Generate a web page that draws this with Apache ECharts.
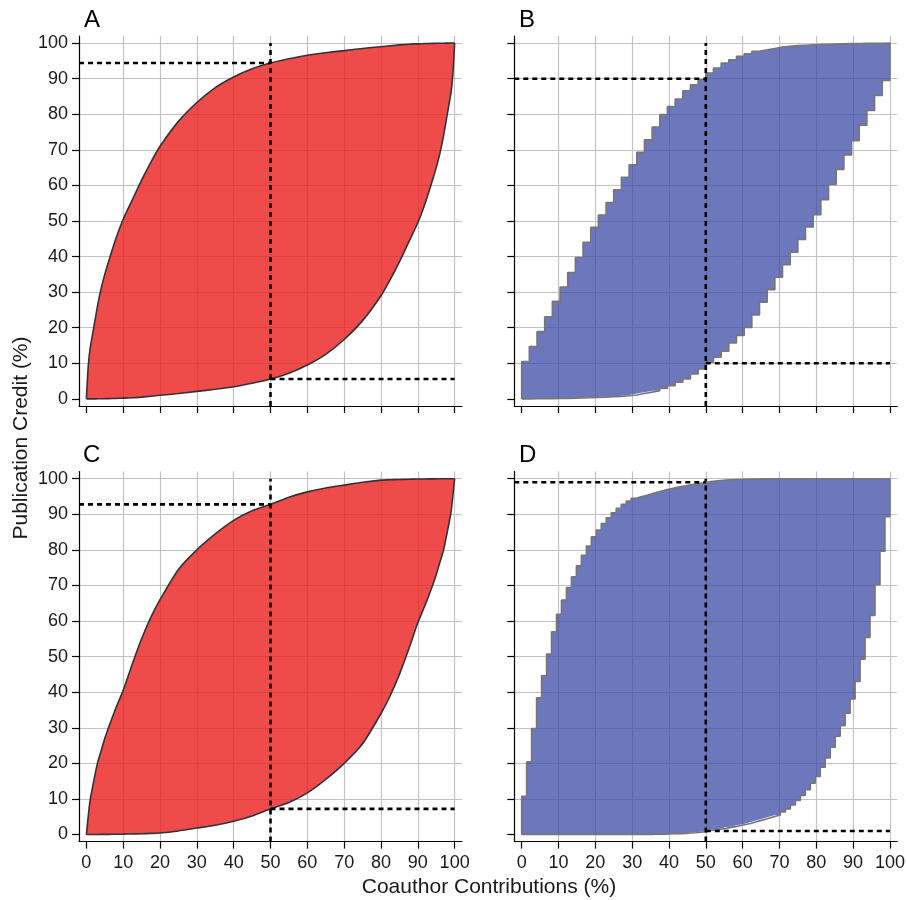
<!DOCTYPE html>
<html>
<head>
<meta charset="utf-8">
<script src="https://cdn.jsdelivr.net/npm/echarts@6/dist/echarts.min.js"></script>
<style>
  html, body { margin: 0; padding: 0; background: #fff; }
  #chart { width: 907px; height: 900px; }
</style>
</head>
<body>
<div id="chart"></div>
<script>
// tick labels
const tickVals = [0, 10, 20, 30, 40, 50, 60, 70, 80, 90, 100];
const gridVals = [10, 20, 30, 40, 50, 60, 70, 80, 90, 100];

// smooth panels (A, C): sample positions along x
const smoothX = [0, 0.5, 1, 2, 3, 4, 5, 6, 8, 10, 12.5, 15, 17.5, 20, 25, 30, 35, 40, 45, 50,
  55, 60, 65, 70, 75, 80, 82.5, 85, 87.5, 90, 92, 94, 95, 96, 97, 98, 99, 99.5, 100];

const upperA = [0, 9, 14, 20, 26, 31, 35, 38.5, 45, 50.5, 56, 61.5, 66.5, 71, 78, 83.3, 87.5, 90.5, 92.8, 94.4,
  95.6, 96.6, 97.3, 97.9, 98.5, 99, 99.25, 99.5, 99.7, 99.8, 99.88, 99.93, 99.95, 99.97, 99.98, 99.99, 100, 100, 100];
const lowerA = [0, 0, 0, 0.01, 0.02, 0.03, 0.05, 0.07, 0.12, 0.2, 0.3, 0.5, 0.75, 1, 1.5, 2.1, 2.7, 3.4, 4.4, 5.6,
  7.2, 9.5, 12.5, 16.7, 22, 29, 33.5, 38.5, 44, 49.5, 55, 61.5, 65, 69, 74, 80, 86, 91, 100];

const upperC = [0, 5, 9.5, 15, 20, 23.5, 27, 30, 35.5, 40.5, 48, 55, 61, 66, 74.5, 80, 84.5, 88.3, 91, 92.8,
  94.8, 96.3, 97.4, 98.2, 99, 99.6, 99.7, 99.8, 99.85, 99.9, 99.93, 99.96, 99.97, 99.98, 99.99, 100, 100, 100, 100];
const lowerC = [0, 0, 0, 0, 0.01, 0.02, 0.03, 0.04, 0.07, 0.1, 0.15, 0.2, 0.3, 0.4, 1, 1.8, 2.6, 3.7, 5.2, 7.2,
  9, 11.7, 15.5, 20, 25.5, 34, 39, 45, 52, 59.5, 64.5, 70, 73, 76.5, 80, 85, 90.5, 95, 100];

// step panel B: step edges and the level held over each step
const edgesB = [0, 2.08, 4.17, 6.25, 8.33, 10.42, 12.5, 14.58, 16.67, 18.75, 20.83, 22.92, 25, 27.08, 29.17,
  31.25, 33.33, 35.42, 37.5, 39.58, 41.67, 43.75, 45.83, 47.92, 50, 52.08, 54.17, 56.25, 58.33, 60.42, 62.5,
  64.58, 66.67, 68.75, 70.83, 72.92, 75, 77.08, 79.17, 81.25, 83.33, 85.42, 87.5, 89.58, 91.67, 93.75, 95.83,
  97.92, 100];
const upperB = [10.5, 14.7, 18.9, 23.1, 27.4, 31.4, 35.5, 39.7, 44.0, 48.2, 51.7, 55.2, 58.8, 62.3, 65.8, 69.3,
  72.8, 76.4, 79.9, 82.2, 84.3, 86.6, 88.3, 89.7, 91.6, 93.0, 94.4, 95.3, 96.3, 97.0, 97.7, 98.1, 98.5, 98.9,
  99.1, 99.3, 99.4, 99.5, 99.6, 99.7, 99.75, 99.8, 99.85, 99.9, 99.93, 99.96, 99.98, 100];
const lowerB = [0, 0.02, 0.04, 0.07, 0.1, 0.15, 0.2, 0.25, 0.3, 0.4, 0.5, 0.6, 0.7, 0.9, 1.1, 1.5, 1.9, 2.3,
  3.0, 3.7, 4.7, 5.6, 7.0, 8.4, 10.3, 11.7, 13.4, 15.7, 17.8, 20.1, 23.6, 27.2, 30.7, 34.2, 37.7, 41.2, 44.8,
  48.3, 51.8, 56.0, 60.3, 64.5, 68.6, 72.6, 76.9, 81.1, 85.3, 89.5];

// step panel D
const edgesD = [0, 1.35, 2.70, 4.05, 5.41, 6.76, 8.11, 9.46, 10.81, 12.16, 13.51, 14.86, 16.22, 17.57, 18.92,
  20.27, 21.62, 22.97, 24.32, 25.68, 27.03, 28.38, 29.73, 31.08, 32.43, 33.78, 35.14, 36.49, 37.84, 39.19,
  40.54, 41.89, 43.24, 44.59, 45.95, 47.30, 48.65, 50, 51.35, 52.70, 54.05, 55.41, 56.76, 58.11, 59.46, 60.81,
  62.16, 63.51, 64.86, 66.22, 67.57, 68.92, 70.27, 71.62, 72.97, 74.32, 75.68, 77.03, 78.38, 79.73, 81.08,
  82.43, 83.78, 85.14, 86.49, 87.84, 89.19, 90.54, 91.89, 93.24, 94.59, 95.95, 97.30, 98.65, 100];
const upperD = [10.7, 20.4, 29.8, 38.4, 44.6, 50.7, 57.0, 61.9, 65.9, 69.4, 72.4, 75.5, 78.5, 81.1, 83.7, 85.6,
  87.4, 89.0, 90.4, 91.7, 92.8, 93.7, 94.5, 94.9, 95.3, 95.7, 96.1, 96.5, 96.9, 97.2, 97.5, 97.8, 98.0, 98.3,
  98.5, 98.7, 98.9, 99.2, 99.35, 99.5, 99.6, 99.7, 99.75, 99.8, 99.85, 99.9, 99.92, 99.94, 99.96, 99.97, 99.98,
  99.99, 100, 100, 100, 100, 100, 100, 100, 100, 100, 100, 100, 100, 100, 100, 100, 100, 100, 100, 100, 100,
  100, 100];
const lowerD = [0, 0, 0, 0, 0, 0, 0, 0, 0, 0, 0, 0, 0, 0, 0, 0, 0, 0, 0, 0, 0, 0, 0.01, 0.02, 0.03, 0.04, 0.06,
  0.08, 0.1, 0.15, 0.2, 0.25, 0.3, 0.4, 0.5, 0.65, 0.8, 1.1, 1.3, 1.5, 1.7, 2.0, 2.2, 2.5, 2.8, 3.1, 3.5, 3.9,
  4.3, 4.7, 5.1, 5.5, 6.3, 7.2, 8.3, 9.6, 11.0, 12.6, 14.4, 16.3, 18.9, 21.5, 24.5, 27.6, 30.6, 34.1, 38.1,
  43.0, 49.3, 55.4, 61.6, 70.2, 79.6, 89.3];

// dashed reference lines: cut at x = 50, credit read where it crosses each curve
const cutX = 50;
const hiVals = [94.4, 90, 92.8, 99];
const loVals = [5.6, 10, 7.2, 1];

const axisMin = -2, axisMax = 102;
const FONT = '"Liberation Sans", Arial, Helvetica, sans-serif';
const RED_FILL = 'rgba(235, 30, 30, 0.8)';
const BLUE_FILL = 'rgba(60, 75, 165, 0.75)';

const panels = [
  { name: 'A', step: false, xs: smoothX, upper: upperA, lower: lowerA, fill: RED_FILL, edge: '#333333' },
  { name: 'B', step: true, xs: edgesB, upper: upperB, lower: lowerB, fill: BLUE_FILL, edge: '#767676' },
  { name: 'C', step: false, xs: smoothX, upper: upperC, lower: lowerC, fill: RED_FILL, edge: '#333333' },
  { name: 'D', step: true, xs: edgesD, upper: upperD, lower: lowerD, fill: BLUE_FILL, edge: '#767676' }
];

const layout = [
  { left: 79, top: 36, letterLeft: 84, letterTop: 8 },
  { left: 514.3, top: 36, letterLeft: 519, letterTop: 8 },
  { left: 79, top: 471.6, letterLeft: 83, letterTop: 443 },
  { left: 514.3, top: 471.6, letterLeft: 519, letterTop: 443 }
];
const GW = 383, GH = 370;

// rows of [x, lower, upper] for the band
function bandRows(p) {
  const rows = [];
  if (p.step) {
    const n = p.upper.length;
    rows.push([p.xs[0], p.lower[0], p.lower[0]]);
    for (let k = 0; k < n; k++) rows.push([p.xs[k], p.lower[k], p.upper[k]]);
    rows.push([p.xs[n], p.lower[n - 1], p.upper[n - 1]]);
    rows.push([p.xs[n], p.lower[n - 1], p.lower[n - 1]]);
  } else {
    for (let k = 0; k < p.xs.length; k++) rows.push([p.xs[k], p.lower[k], p.upper[k]]);
  }
  return rows;
}

const grids = [], xAxes = [], yAxes = [], series = [], titles = [];

panels.forEach(function (p, i) {
  const L = layout[i];
  const bottomRow = i >= 2;
  const leftCol = i % 2 === 0;
  grids.push({ left: L.left, top: L.top, width: GW, height: GH, outerBoundsMode: 'none' });

  const labelStyle = { fontSize: 18, color: '#1a1a1a', fontFamily: FONT };
  // visible axes (line, ticks, labels)
  xAxes.push({
    type: 'value', gridIndex: i, min: axisMin, max: axisMax,
    axisLine: { show: true, onZero: false, lineStyle: { color: '#000', width: 1.2 } },
    axisTick: { show: true, length: 7, customValues: tickVals, lineStyle: { color: '#000', width: 1.2 } },
    axisLabel: Object.assign({ show: bottomRow, customValues: tickVals, margin: 12 }, labelStyle),
    splitLine: { show: false }
  });
  // helper axes only for the grid lines
  xAxes.push({
    type: 'value', gridIndex: i, min: axisMin, max: axisMax, position: 'top',
    axisLine: { show: false },
    axisTick: { show: false, customValues: gridVals },
    axisLabel: { show: false, customValues: gridVals },
    splitLine: { show: true, lineStyle: { color: '#c2c2c2', width: 1.2 } }
  });
  yAxes.push({
    type: 'value', gridIndex: i, min: axisMin, max: axisMax,
    axisLine: { show: true, onZero: false, lineStyle: { color: '#000', width: 1.2 } },
    axisTick: { show: true, length: 7, customValues: tickVals, lineStyle: { color: '#000', width: 1.2 } },
    axisLabel: Object.assign({ show: leftCol, customValues: tickVals, margin: 11 }, labelStyle),
    splitLine: { show: false }
  });
  yAxes.push({
    type: 'value', gridIndex: i, min: axisMin, max: axisMax, position: 'right',
    axisLine: { show: false },
    axisTick: { show: false, customValues: gridVals },
    axisLabel: { show: false, customValues: gridVals },
    splitLine: { show: true, lineStyle: { color: '#c2c2c2', width: 1.2 } }
  });

  const rows = bandRows(p);
  const common = {
    type: 'line', xAxisIndex: 2 * i, yAxisIndex: 2 * i,
    stack: 'band' + p.name, symbol: 'none', silent: true,
    step: p.step ? 'end' : false,
    smooth: p.step ? false : 0.2,
    // value first so the stack runs on y
    encode: { x: 1, y: 0 },
    lineStyle: { color: p.edge, width: 1.6 },
    z: 3
  };
  series.push(Object.assign({}, common, {
    name: p.name + ' lower',
    data: rows.map(function (r) { return [r[1], r[0]]; })
  }));
  series.push(Object.assign({}, common, {
    name: p.name + ' upper',
    data: rows.map(function (r) { return [r[2] - r[1], r[0]]; }),
    areaStyle: { color: p.fill, opacity: 1 }
  }));

  const dash = { color: '#000', width: 2.6, type: [5, 4] };
  [
    [[cutX, axisMin], [cutX, 100]],
    [[axisMin, hiVals[i]], [cutX, hiVals[i]]],
    [[cutX, loVals[i]], [100, loVals[i]]]
  ].forEach(function (seg) {
    series.push({
      type: 'line', xAxisIndex: 2 * i, yAxisIndex: 2 * i, data: seg,
      symbol: 'none', silent: true, lineStyle: dash, z: 6
    });
  });

  titles.push({
    text: p.name, left: L.letterLeft, top: L.letterTop, padding: 0,
    textStyle: { fontSize: 24, fontWeight: 'normal', color: '#000', fontFamily: FONT }
  });
});

const chart = echarts.init(document.getElementById('chart'));
chart.setOption({
  animation: false,
  backgroundColor: '#fff',
  title: titles,
  grid: grids,
  xAxis: xAxes,
  yAxis: yAxes,
  series: series,
  graphic: [
    {
      type: 'text', x: 21, y: 438, rotation: Math.PI / 2,
      style: {
        text: 'Publication Credit (%)', font: '21px ' + FONT, fill: '#1a1a1a',
        textAlign: 'center', textVerticalAlign: 'middle', align: 'center', verticalAlign: 'middle'
      }
    },
    {
      type: 'text', x: 489, y: 887,
      style: {
        text: 'Coauthor Contributions (%)', font: '21px ' + FONT, fill: '#1a1a1a',
        textAlign: 'center', textVerticalAlign: 'middle', align: 'center', verticalAlign: 'middle'
      }
    }
  ]
});
</script>
</body>
</html>
